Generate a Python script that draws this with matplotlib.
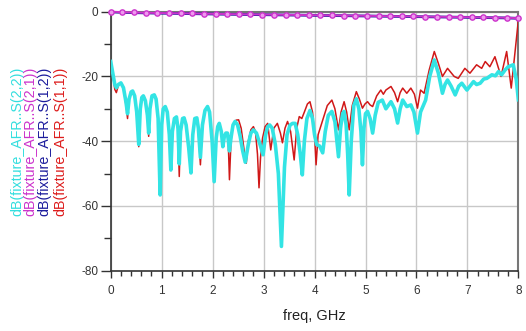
import numpy as np
import matplotlib.pyplot as plt
from matplotlib.ticker import MultipleLocator

plt.rcParams['font.family'] = ['Liberation Sans', 'DejaVu Sans']
plt.rcParams['axes.unicode_minus'] = False

# S(2,2) return loss, dB
f22 = [0.00, 0.04, 0.08, 0.11, 0.15, 0.20, 0.25, 0.30, 0.33, 0.36, 0.40, 0.43, 0.47, 0.51, 0.55, 0.58,
       0.61, 0.64, 0.68, 0.72, 0.745, 0.77, 0.81, 0.855, 0.89, 0.93, 0.97, 1.00, 1.03, 1.07, 1.11, 1.15,
       1.18, 1.21, 1.25, 1.29, 1.32, 1.345, 1.37, 1.41, 1.44, 1.48, 1.53, 1.575, 1.61, 1.65, 1.69, 1.72,
       1.76, 1.80, 1.85, 1.90, 1.94, 1.99, 2.03, 2.07, 2.10, 2.13, 2.17, 2.20, 2.23, 2.26, 2.29, 2.31,
       2.33, 2.36, 2.40, 2.44, 2.49, 2.54, 2.59, 2.64, 2.70, 2.75, 2.80, 2.86, 2.92, 2.99, 3.04, 3.08,
       3.12, 3.17, 3.23, 3.29, 3.35, 3.41, 3.46, 3.52, 3.57, 3.62, 3.67, 3.72, 3.76, 3.80, 3.85, 3.91,
       3.96, 4.00, 4.04, 4.10, 4.16, 4.21, 4.27, 4.34, 4.40, 4.44, 4.47, 4.51, 4.55, 4.58, 4.62, 4.65,
       4.68, 4.72, 4.77, 4.82, 4.87, 4.91, 4.94, 4.97, 5.00, 5.04, 5.09, 5.14, 5.19, 5.25, 5.33, 5.40,
       5.50, 5.57, 5.63, 5.68, 5.73, 5.81, 5.89, 5.95, 6.02, 6.08, 6.18, 6.26, 6.35, 6.43, 6.51, 6.56,
       6.61, 6.68, 6.76, 6.83, 6.89, 6.99, 7.05, 7.12, 7.18, 7.25, 7.32, 7.38, 7.48, 7.55, 7.61, 7.67,
       7.74, 7.80, 7.90, 7.96, 8.00]
s22 = [-15.4, -19.0, -22.5, -23.5, -22.5, -22.0, -23.5, -28.0, -31.5, -27.0, -24.8, -24.5, -26.0, -31.0, -41.0, -30.0,
       -26.5, -26.0, -27.5, -32.0, -37.5, -30.0, -26.0, -25.7, -27.0, -33.0, -56.6, -35.0, -30.0, -29.3, -31.0, -38.0,
       -48.9, -37.0, -33.0, -32.5, -36.0, -47.0, -37.0, -33.0, -32.8, -35.0, -42.0, -49.8, -38.0, -33.0, -32.8, -36.0,
       -45.0, -35.0, -30.5, -29.3, -31.0, -40.0, -52.5, -39.0, -35.5, -34.5, -37.0, -41.7, -38.5, -37.5, -37.5, -40.0,
       -43.0, -39.0, -35.0, -33.9, -35.0, -38.5, -43.0, -46.5, -41.0, -37.5, -36.5, -37.5, -40.5, -44.2, -38.0, -35.5,
       -35.0, -36.0, -41.0, -50.0, -72.5, -48.0, -38.0, -35.0, -34.5, -34.5, -38.0, -44.0, -50.4, -40.0, -33.0, -30.5,
       -33.0, -38.0, -41.0, -41.5, -43.6, -37.0, -32.0, -30.8, -34.0, -40.0, -44.8, -36.0, -31.5, -30.8, -35.0, -44.0,
       -56.6, -40.0, -29.0, -26.9, -30.0, -37.0, -47.3, -36.0, -31.5, -30.8, -33.0, -37.5, -32.0, -28.0, -27.3, -30.0,
       -27.8, -30.0, -34.4, -30.0, -27.3, -29.3, -28.8, -31.0, -37.5, -31.0, -27.3, -20.0, -14.9, -19.0, -25.2, -22.5,
       -21.1, -23.0, -25.7, -23.0, -22.1, -24.2, -23.0, -21.6, -22.5, -22.1, -20.8, -20.6, -19.5, -19.8, -18.5, -19.5,
       -18.0, -17.0, -16.4, -21.1, -27.2]

# S(1,1) return loss, dB
f11 = [0.00, 0.04, 0.08, 0.11, 0.15, 0.20, 0.25, 0.30, 0.33, 0.36, 0.40, 0.43, 0.47, 0.51, 0.55, 0.58,
       0.61, 0.64, 0.68, 0.72, 0.745, 0.77, 0.81, 0.855, 0.89, 0.93, 0.97, 1.00, 1.03, 1.07, 1.11, 1.15,
       1.18, 1.21, 1.25, 1.29, 1.32, 1.345, 1.37, 1.41, 1.44, 1.48, 1.53, 1.575, 1.61, 1.65, 1.69, 1.72,
       1.76, 1.80, 1.85, 1.90, 1.94, 1.99, 2.03, 2.07, 2.10, 2.13, 2.17, 2.20, 2.23, 2.26, 2.29, 2.31,
       2.33, 2.36, 2.40, 2.46, 2.51, 2.56, 2.62, 2.66, 2.70, 2.75, 2.80, 2.84, 2.88, 2.91, 2.94, 2.98,
       3.03, 3.08, 3.14, 3.20, 3.27, 3.33, 3.37, 3.42, 3.47, 3.53, 3.60, 3.65, 3.70, 3.75, 3.80, 3.86,
       3.91, 3.96, 4.00, 4.03, 4.07, 4.12, 4.17, 4.25, 4.34, 4.40, 4.47, 4.52, 4.58, 4.63, 4.68, 4.74,
       4.82, 4.88, 4.94, 4.99, 5.04, 5.09, 5.14, 5.22, 5.30, 5.35, 5.40, 5.50, 5.57, 5.63, 5.68, 5.73,
       5.81, 5.89, 5.96, 6.02, 6.08, 6.15, 6.25, 6.35, 6.43, 6.51, 6.61, 6.74, 6.82, 6.95, 7.05, 7.18,
       7.28, 7.35, 7.44, 7.54, 7.66, 7.77, 7.86, 8.00]
s11 = [-15.4, -19.5, -24.0, -25.0, -22.8, -22.0, -23.5, -29.0, -33.0, -27.0, -24.8, -24.5, -26.0, -32.0, -41.7, -30.0,
       -26.5, -26.0, -27.5, -32.5, -38.5, -30.0, -26.0, -25.7, -27.0, -33.0, -48.0, -35.0, -30.0, -29.3, -31.0, -38.0,
       -49.0, -37.0, -33.0, -32.5, -37.0, -50.9, -37.0, -33.0, -32.8, -35.0, -41.0, -46.0, -38.0, -33.0, -32.8, -37.0,
       -47.3, -35.0, -30.5, -29.3, -31.0, -39.0, -48.0, -39.0, -35.5, -34.5, -37.0, -41.0, -38.5, -37.5, -37.5, -42.0,
       -51.9, -40.0, -35.0, -33.5, -33.4, -36.0, -43.0, -46.8, -40.0, -36.5, -35.5, -37.0, -44.0, -54.4, -45.0, -39.0,
       -35.5, -34.5, -42.7, -36.0, -34.5, -37.5, -40.5, -36.0, -33.9, -37.0, -45.8, -36.0, -32.4, -33.0, -31.0, -28.5,
       -27.8, -31.0, -38.0, -47.3, -38.0, -35.5, -33.0, -29.0, -27.3, -30.0, -36.5, -31.0, -27.8, -31.0, -36.5, -29.0,
       -24.7, -27.0, -29.8, -28.5, -27.8, -28.8, -29.3, -26.0, -24.2, -25.5, -24.2, -23.1, -25.0, -27.8, -25.0, -23.6,
       -25.2, -23.6, -25.5, -29.8, -24.2, -25.2, -18.0, -12.3, -16.0, -20.0, -17.5, -20.0, -20.6, -17.5, -19.0, -16.4,
       -17.5, -15.4, -17.0, -13.9, -20.0, -12.3, -23.6, -2.6]

# insertion loss S(2,1) / S(1,2), dB
f21 = [0.00, 0.23, 0.46, 0.69, 0.91, 1.14, 1.37, 1.60, 1.83, 2.06, 2.29, 2.51, 2.74, 2.97, 3.20, 3.43,
       3.66, 3.89, 4.11, 4.34, 4.57, 4.80, 5.03, 5.26, 5.49, 5.71, 5.94, 6.17, 6.40, 6.63, 6.86, 7.09,
       7.31, 7.54, 7.77, 8.00]
s21 = [0.00, -0.15, -0.25, -0.33, -0.40, -0.45, -0.50, -0.56, -0.62, -0.68, -0.74, -0.78, -0.83, -0.88, -0.92, -0.97,
       -1.01, -1.06, -1.10, -1.15, -1.19, -1.24, -1.28, -1.33, -1.38, -1.42, -1.47, -1.52, -1.57, -1.62, -1.67, -1.72,
       -1.77, -1.82, -1.88, -2.00]
s12 = [-0.05, -0.20, -0.30, -0.38, -0.45, -0.50, -0.55, -0.61, -0.67, -0.73, -0.79, -0.83, -0.88, -0.93, -0.97, -1.02,
       -1.06, -1.11, -1.15, -1.20, -1.24, -1.29, -1.33, -1.38, -1.43, -1.47, -1.52, -1.57, -1.62, -1.67, -1.72, -1.77,
       -1.82, -1.87, -1.93, -2.05]

labels = ['dB(fixture_AFR..S(2,2))', 'dB(fixture_AFR..S(2,1))',
          'dB(fixture_AFR..S(1,2))', 'dB(fixture_AFR..S(1,1))']
colors = ['#33dede', '#cc33cc', '#1c1c9c', '#dd1c1c']

fig = plt.figure(figsize=(5.26, 3.31), dpi=100)
ax = fig.add_axes([0.2105, 0.1822, 0.775, 0.7825])

ax.plot(f11, s11, color='#d01818', lw=1.1, zorder=3)
ax.plot(f22, s22, color='#33e4e4', lw=2.6, zorder=4, solid_joinstyle='round')
ax.plot(f21, s12, color='#1c1c9c', lw=2.0, zorder=5)
ax.plot(f21, s21, color='#cc33cc', lw=1.4, zorder=6, marker='o', ms=3.8,
        mfc='#ee99ee', mec='#cc33cc', mew=1.0, clip_on=False)

ax.set_xlim(0, 8)
ax.set_ylim(-80, 0)
ax.xaxis.set_major_locator(MultipleLocator(1))
ax.xaxis.set_minor_locator(MultipleLocator(0.2))
ax.yaxis.set_major_locator(MultipleLocator(20))
ax.yaxis.set_minor_locator(MultipleLocator(10))
ax.grid(True, which='major', color='#c8c8c8', lw=1.0)
ax.set_axisbelow(True)

ax.tick_params(axis='y', which='major', direction='out', length=7, width=1, pad=2,
               labelsize=8.5, colors='#333333')
ax.tick_params(axis='y', which='minor', direction='out', length=5, width=1, colors='#333333')
ax.tick_params(axis='x', which='major', direction='out', length=5, width=1, pad=5,
               labelsize=8.5, colors='#333333')
ax.tick_params(axis='x', which='minor', direction='out', length=3.5, width=1, colors='#333333')

for side in ['left', 'bottom']:
    ax.spines[side].set_color('#333333')
    ax.spines[side].set_linewidth(1.2)
for side in ['top', 'right']:
    ax.spines[side].set_color('#777777')
    ax.spines[side].set_linewidth(1.5)

ax.set_xlabel('freq, GHz', fontsize=10.5, color='#222222', labelpad=9)

xs = [17, 30.5, 44.5, 60.5]
for x, lab, c in zip(xs, labels, colors):
    fig.text(x / 526, 1 - 141 / 331, lab, rotation=90, color=c,
             fontsize=10.3, ha='center', va='center')

fig.savefig('out.png', dpi=100)
